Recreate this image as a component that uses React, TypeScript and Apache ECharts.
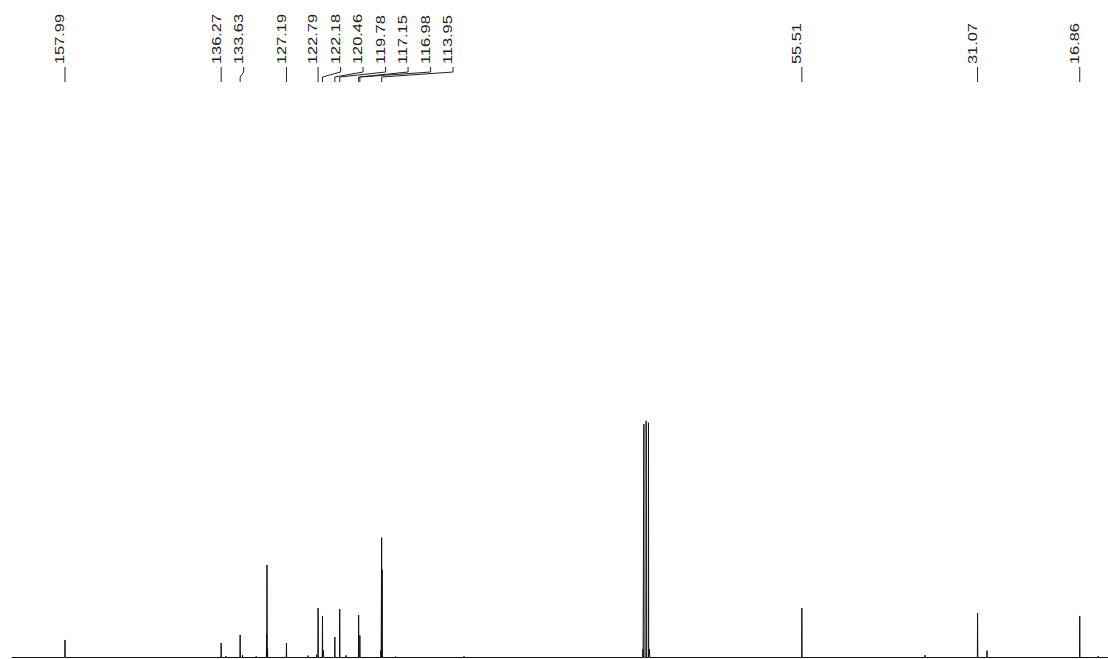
import React, { useEffect, useRef } from "react";
import * as echarts from "echarts";

// Chemical shifts (ppm) and relative intensities of the lines in the spectrum
const peakShifts = [
  157.99, 136.27, 135.6, 133.63, 133.3, 131.4, 129.95, 129.9, 129.82, 127.19,
  124.2, 123.0, 122.79, 122.18, 122.05, 120.46, 119.78, 118.9, 117.15, 116.98,
  114.05, 113.95, 113.88, 112.0, 102.5, 77.62, 77.48, 77.16, 76.84, 76.7,
  55.51, 38.38, 31.07, 29.76, 16.86, 14.3,
];
const peakIntensities = [
  7.4, 6.1, 0.6, 9.5, 1.0, 0.5, 10.0, 39.0, 4.0, 6.1,
  0.8, 1.2, 20.8, 17.5, 3.0, 8.6, 20.4, 0.9, 17.9, 9.3,
  3.0, 50.5, 37.0, 0.4, 0.5, 3.5, 98.3, 99.7, 98.9, 3.5,
  20.8, 1.0, 18.7, 2.9, 17.5, 0.6,
];

// Shift labels printed at the top of the spectrum
const labelShifts = [
  157.99, 136.27, 133.63, 127.19, 122.79, 122.18, 120.46, 119.78, 117.15,
  116.98, 113.95, 55.51, 31.07, 16.86,
];
const labelTexts = [
  "157.99", "136.27", "133.63", "127.19", "122.79", "122.18", "120.46",
  "119.78", "117.15", "116.98", "113.95", "55.51", "31.07", "16.86",
];

const axisMin = 12.93;
const axisMax = 167.03;
const baselineStart = 165.4;
const baselineEnd = 12.95;

function buildSpectrum(): [number, number][] {
  const idx = peakShifts.map((_, i) => i).sort((a, b) => peakShifts[b] - peakShifts[a]);
  const pts: [number, number][] = [[baselineStart, 0]];
  const hw = 0.03;
  for (const i of idx) {
    const p = peakShifts[i];
    pts.push([p + hw, 0], [p, peakIntensities[i]], [p - hw, 0]);
  }
  pts.push([baselineEnd, 0]);
  return pts;
}

export default function App() {
  const ref = useRef<HTMLDivElement>(null);
  useEffect(() => {
    if (!ref.current) return;
    const chart = echarts.init(ref.current, null, { renderer: "svg" });
    chart.setOption({
      animation: false,
      backgroundColor: "#ffffff",
      grid: { left: 0, right: 0, top: 0, bottom: 1.5 },
      xAxis: {
        type: "value",
        inverse: true,
        min: axisMin,
        max: axisMax,
        show: false,
      },
      yAxis: { type: "value", min: 0, max: 277, show: false },
      series: [
        {
          type: "line",
          data: buildSpectrum(),
          showSymbol: false,
          symbol: "none",
          lineStyle: { color: "#111111", width: 1 },
          silent: true,
        },
      ],
    });

    // label layout: push labels right to keep a minimum spacing
    const gap = 22.5;
    const peakPx = labelShifts.map(
      (s) => chart.convertToPixel({ xAxisIndex: 0 }, s) as number
    );
    const labelPx: number[] = [];
    peakPx.forEach((px, i) => {
      labelPx.push(i === 0 ? px : Math.max(px, labelPx[i - 1] + gap));
    });

    const graphics: any[] = [];
    labelTexts.forEach((t, i) => {
      const lx = labelPx[i];
      const px = peakPx[i];
      graphics.push({
        type: "text",
        x: lx - 5,
        y: 64,
        rotation: Math.PI / 2,
        scaleX: 1.26,
        style: {
          text: t,
          fontSize: 13,
          fontFamily: "Liberation Sans, Arial, sans-serif",
          fill: "#222222",
          align: "left",
          verticalAlign: "middle",
        },
        silent: true,
      });
      const pts =
        Math.abs(lx - px) < 0.5
          ? [
              [px, 67],
              [px, 82],
            ]
          : [
              [lx, 67],
              [lx, 72],
              [px, 77],
              [px, 82],
            ];
      graphics.push({
        type: "polyline",
        shape: { points: pts },
        style: { stroke: "#222222", lineWidth: 1, fill: null },
        silent: true,
      });
    });
    chart.setOption({ graphic: graphics });

    return () => chart.dispose();
  }, []);
  return (
    <div
      ref={ref}
      style={{ position: "fixed", left: 0, top: 0, width: 1108, height: 659 }}
    />
  );
}
